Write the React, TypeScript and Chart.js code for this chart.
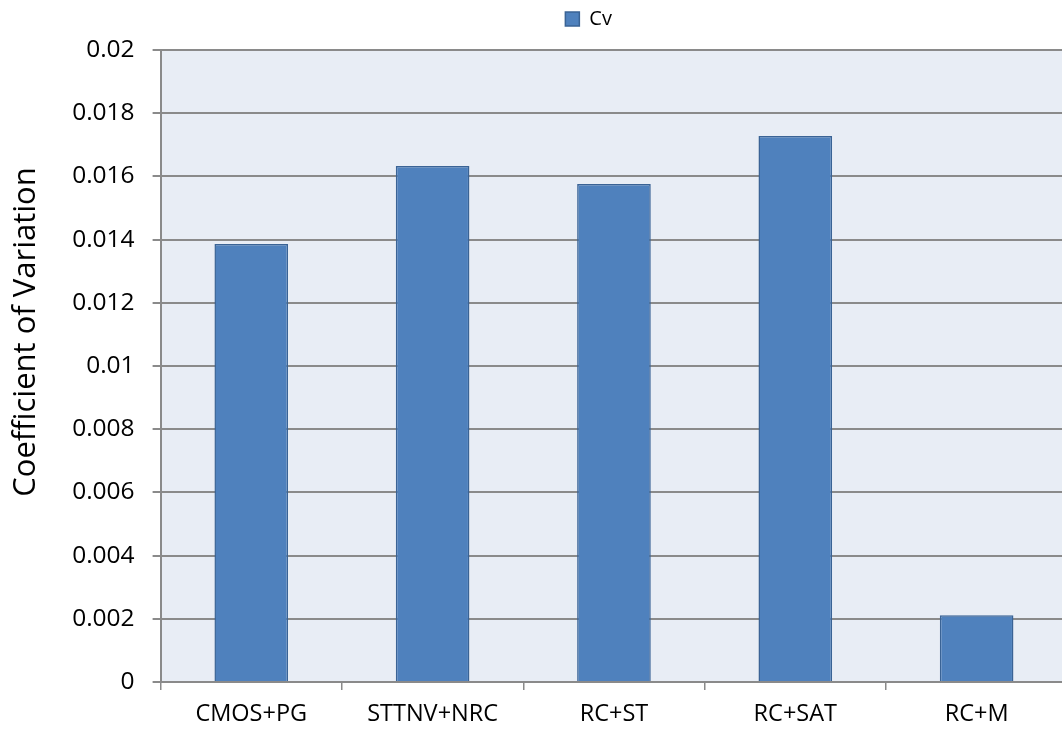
import { useEffect, useRef } from 'react';
import { Chart, registerables } from 'chart.js';

Chart.register(...registerables);

const categories = ['CMOS+PG', 'STTNV+NRC', 'RC+ST', 'RC+SAT', 'RC+M'];
const cvValues = [0.01386, 0.01633, 0.01576, 0.01728, 0.00211];
const yTickLabels = ['0', '0.002', '0.004', '0.006', '0.008', '0.01', '0.012', '0.014', '0.016', '0.018', '0.02'];
const seriesName = 'Cv';
const yAxisTitle = 'Coefficient of Variation';

const FONT = "'Open Sans', 'DejaVu Sans', sans-serif";
const GRID = '#8a8a8a';

// Light blue-grey fill behind the plot area
const plotBackground = {
  id: 'plotBackground',
  beforeDraw(chart: any) {
    const { ctx, chartArea } = chart;
    ctx.save();
    ctx.fillStyle = '#E8EDF5';
    ctx.fillRect(chartArea.left, chartArea.top, chartArea.right - chartArea.left, chartArea.bottom - chartArea.top);
    ctx.restore();
  },
};

// Nudge the legend so it sits centred over the full (wider) chart and close to the top edge,
// and lift the y-axis title a little above the axis midpoint
const layoutTweaks = {
  id: 'layoutTweaks',
  afterLayout(chart: any) {
    const lg = chart.legend;
    if (lg) {
      const dx = 55;
      const dy = -11;
      lg.left += dx;
      lg.right += dx;
      lg.top += dy;
      lg.bottom += dy;
    }
    const ys = chart.scales.y;
    if (ys && !ys.__titleLifted) {
      const drawTitle = ys.drawTitle.bind(ys);
      ys.drawTitle = () => {
        const t = ys.top;
        const b = ys.bottom;
        ys.top = t - 34;
        ys.bottom = b - 34;
        drawTitle();
        ys.top = t;
        ys.bottom = b;
      };
      ys.__titleLifted = true;
    }
  },
};

export default function App() {
  const canvasRef = useRef<HTMLCanvasElement | null>(null);

  useEffect(() => {
    if (!canvasRef.current) return;
    Chart.defaults.color = '#000';
    const chart = new Chart(canvasRef.current, {
      type: 'bar',
      data: {
        labels: categories,
        datasets: [
          {
            label: seriesName,
            data: cvValues,
            backgroundColor: '#4F81BD',
            borderColor: '#3A6395',
            borderWidth: 1.5,
            categoryPercentage: 1,
            barPercentage: 0.406,
          },
        ],
      },
      options: {
        responsive: false,
        animation: false,
        layout: { padding: { top: 0, right: 106.7, bottom: 0, left: 0 } },
        plugins: {
          legend: {
            display: true,
            position: 'top',
            labels: {
              boxWidth: 14,
              boxHeight: 14,
              padding: 20,
              font: { family: FONT, size: 20 },
              color: '#000',
            },
          },
          tooltip: { enabled: false },
        },
        scales: {
          x: {
            afterFit: (scale: any) => {
              scale.height = 50;
            },
            grid: {
              offset: true,
              drawOnChartArea: false,
              drawTicks: true,
              tickLength: 8,
              color: GRID,
              lineWidth: 1.5,
            },
            border: { display: true, color: GRID, width: 2 },
            ticks: {
              font: { family: FONT, size: 23.5 },
              color: '#000',
              padding: 10,
              maxRotation: 0,
              autoSkip: false,
            },
          },
          y: {
            min: 0,
            max: 0.02,
            afterFit: (scale: any) => {
              scale.width = 160.6;
            },
            grid: {
              color: GRID,
              lineWidth: 2,
              drawTicks: true,
              tickLength: 8,
            },
            border: { display: true, color: GRID, width: 2 },
            ticks: {
              stepSize: 0.002,
              font: { family: FONT, size: 24.5 },
              color: '#000',
              padding: 18,
              callback: (_value: any, index: number) => yTickLabels[index],
            },
            title: {
              display: true,
              text: yAxisTitle,
              font: { family: FONT, size: 31 },
              color: '#000',
              padding: { top: 8, bottom: 0 },
            },
          },
        },
      },
      plugins: [plotBackground, layoutTweaks],
    });
    return () => chart.destroy();
  }, []);

  return (
    <div
      style={{
        position: 'absolute',
        left: 0,
        top: 0,
        width: 1062,
        height: 732,
        overflow: 'hidden',
        background: '#fff',
      }}
    >
      <canvas ref={canvasRef} width={1174} height={732} style={{ display: 'block' }} />
    </div>
  );
}
